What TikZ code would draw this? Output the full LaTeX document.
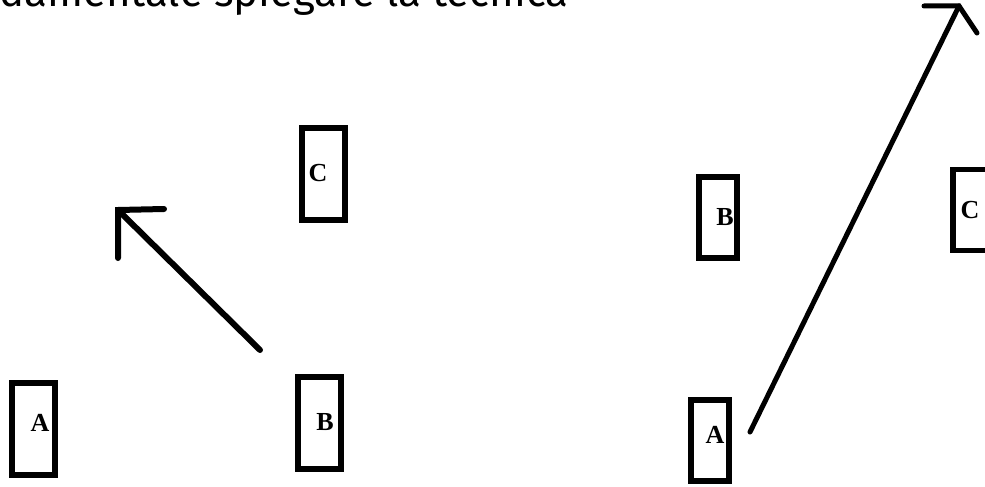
\documentclass[tikz,border=0pt]{standalone}
\usepackage{fontspec}
\setmainfont{Liberation Serif}
\newfontfamily\capfont{Fira Sans}
\begin{document}
\begin{tikzpicture}[x=1pt,y=-1pt,
  boxL/.style={draw=black,line width=6pt,fill=white,rectangle,inner sep=0pt,minimum width=43pt,minimum height=92pt},
  boxR/.style={draw=black,line width=5.5pt,fill=white,rectangle,inner sep=0pt,minimum width=38pt,minimum height=81pt},
  lbl/.style={font=\fontsize{26}{26}\selectfont\bfseries,inner sep=0pt,text=black},
  strokeL/.style={line width=6pt,line cap=round,line join=miter},
  strokeR/.style={line width=5pt,line cap=round,line join=miter}]
\clip (0,0) rectangle (985,487);
\useasboundingbox (0,0) rectangle (985,487);
\fill[white] (0,0) rectangle (985,487);
% caption fragment
\node[anchor=base west,inner sep=0pt,font=\capfont\fontsize{42}{42}\selectfont] (cap) at (-1,7) {damentale spiegare la tecnica};
% left panel
\node[boxL] (la) at (33.5,429) {};
\node[boxL] (lb) at (319.5,423) {};
\node[boxL] (lc) at (323.5,173.5) {};
\node[lbl] (lat) at (40,423) {A};
\node[lbl] (lbt) at (325,422) {B};
\node[lbl] (lct) at (318,173) {C};
\coordinate (ls) at (260,350);
\coordinate (lt) at (118,210);
\coordinate (lh1) at (164,209);
\coordinate (lh2) at (118,258);
\draw[strokeL] (ls) -- (lt);
\draw[strokeL] (lh1) -- (lt) -- (lh2);
% right panel
\node[boxR] (ra) at (710,440.5) {};
\node[boxR] (rb) at (718,217.5) {};
\node[boxR] (rc) at (972,210) {};
\node[lbl] (rat) at (715,435) {A};
\node[lbl] (rbt) at (725,217) {B};
\node[lbl] (rct) at (970,210) {C};
\coordinate (rs) at (750,432);
\coordinate (rt) at (959,6);
\coordinate (rh1) at (924,6);
\coordinate (rh2) at (977,33);
\draw[strokeR] (rs) -- (rt);
\draw[strokeR] (rh1) -- (rt) -- (rh2);
\end{tikzpicture}
\end{document}
